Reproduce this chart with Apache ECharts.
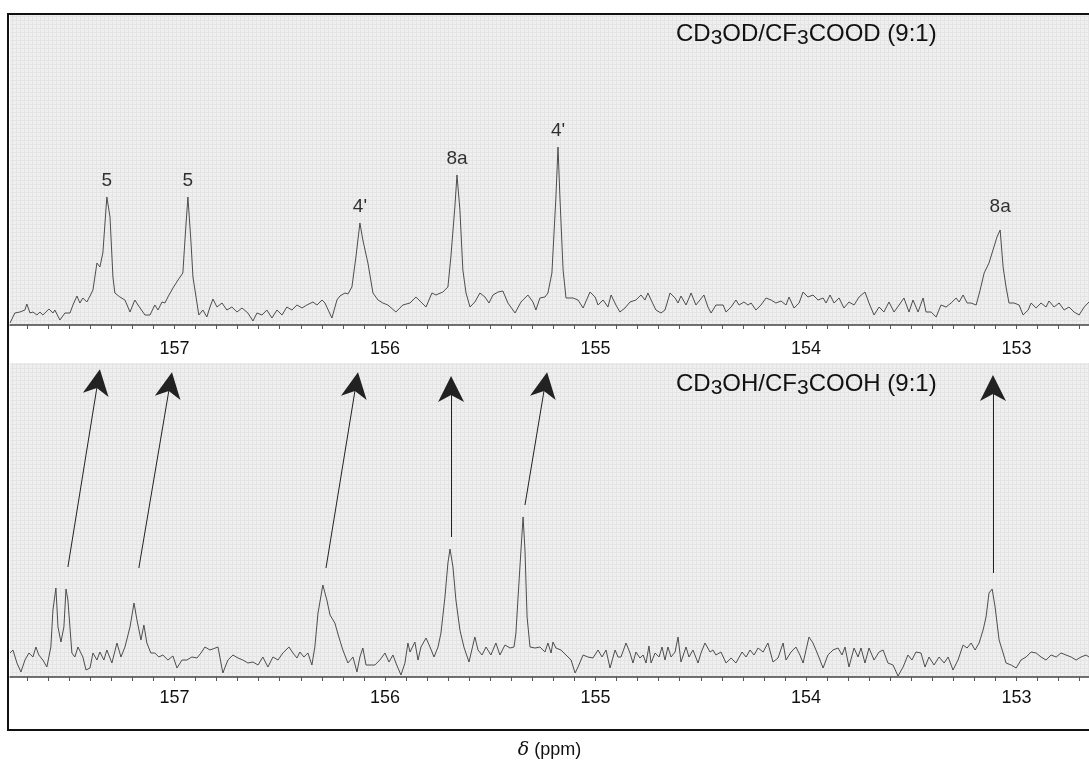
<!DOCTYPE html>
<html>
<head>
<meta charset="utf-8">
<title>13C NMR, CD3OD vs CD3OH</title>
<script src="https://cdn.jsdelivr.net/npm/echarts@6/dist/echarts.min.js"></script>
<style>
html, body { margin: 0; padding: 0; background: #fff; }
#chart { width: 1089px; height: 768px; }
</style>
</head>
<body>
<div id="chart"></div>
<script>
// chemical shift (ppm) and intensity (arbitrary units), upper trace: CD3OD/CF3COOD
const topShift = [157.781,157.758,157.734,157.710,157.701,157.686,157.672,157.653,157.639,157.625,
    157.596,157.577,157.568,157.544,157.520,157.496,157.482,157.463,157.449,157.435,
    157.416,157.401,157.387,157.368,157.354,157.340,157.321,157.306,157.292,157.283,
    157.259,157.235,157.211,157.188,157.173,157.140,157.116,157.093,157.078,157.059,
    157.045,157.031,157.007,156.983,156.960,156.950,156.936,156.922,156.912,156.893,
    156.884,156.865,156.846,156.831,156.817,156.798,156.774,156.751,156.727,156.703,
    156.679,156.651,156.627,156.608,156.584,156.561,156.537,156.513,156.489,156.466,
    156.442,156.418,156.394,156.371,156.342,156.323,156.299,156.285,156.252,156.228,
    156.214,156.190,156.176,156.157,156.138,156.119,156.105,156.081,156.057,156.033,
    156.010,155.986,155.948,155.915,155.881,155.853,155.829,155.805,155.777,155.758,
    155.725,155.701,155.687,155.668,155.658,155.644,155.630,155.615,155.596,155.573,
    155.549,155.525,155.506,155.487,155.463,155.440,155.416,155.382,155.354,155.321,
    155.297,155.283,155.264,155.240,155.226,155.207,155.188,155.178,155.169,155.154,
    155.140,155.107,155.083,155.059,155.026,155.002,154.988,154.964,154.941,154.926,
    154.903,154.884,154.860,154.836,154.808,154.784,154.765,154.751,154.736,154.713,
    154.689,154.670,154.646,154.622,154.608,154.594,154.570,154.546,154.523,154.504,
    154.485,154.466,154.451,154.428,154.394,154.380,154.356,154.333,154.318,154.295,
    154.276,154.261,154.238,154.214,154.190,154.166,154.143,154.119,154.095,154.081,
    154.057,154.033,154.014,153.991,153.967,153.943,153.919,153.905,153.886,153.867,
    153.843,153.820,153.796,153.772,153.748,153.720,153.701,153.677,153.653,153.630,
    153.606,153.582,153.558,153.535,153.511,153.492,153.468,153.444,153.430,153.406,
    153.382,153.359,153.335,153.311,153.287,153.273,153.254,153.235,153.216,153.192,
    153.173,153.154,153.131,153.112,153.093,153.078,153.064,153.050,153.036,153.012,
    152.988,152.969,152.945,152.931,152.907,152.884,152.860,152.846,152.822,152.798,
    152.774,152.751,152.727,152.703,152.679,152.656]
const topIntensity = [2,12,13,15,21,12,13,10,13,10,
    16,12,15,5,12,12,20,29,22,27,
    23,29,35,62,58,72,128,108,48,32,
    28,25,13,25,20,10,10,20,15,23,
    22,28,37,45,52,85,128,85,48,22,
    10,15,8,18,26,18,22,15,18,13,
    17,12,4,12,10,15,7,15,10,18,
    15,20,17,20,23,20,25,22,7,25,
    29,32,31,38,68,102,85,62,32,25,
    22,20,13,20,22,28,23,18,32,30,
    33,38,68,118,150,115,55,32,18,23,
    32,28,22,30,33,34,22,12,23,30,
    23,15,27,28,32,52,128,178,128,55,
    27,27,25,17,33,28,20,25,18,30,
    20,13,17,23,25,30,25,32,25,15,
    12,15,32,27,22,29,20,32,20,25,
    30,18,12,20,20,13,18,25,20,23,
    20,22,15,20,27,25,22,24,20,28,
    17,22,33,28,30,25,27,22,30,22,
    27,17,23,20,28,33,22,10,18,13,
    23,13,20,27,13,25,13,27,13,13,
    8,20,18,22,27,23,30,22,22,20,
    35,52,62,75,88,95,58,38,22,22,
    20,10,15,22,17,22,18,24,18,22,
    15,18,13,10,18,23]

// lower trace: CD3OH/CF3COOH
const bottomShift = [157.781,157.767,157.748,157.729,157.710,157.691,157.672,157.658,157.644,157.625,
    157.606,157.587,157.577,157.563,157.553,157.539,157.525,157.515,157.506,157.487,
    157.473,157.458,157.435,157.420,157.401,157.387,157.368,157.354,157.335,157.321,
    157.297,157.273,157.254,157.235,157.211,157.192,157.178,157.159,157.145,157.131,
    157.112,157.093,157.074,157.055,157.031,157.007,156.988,156.964,156.941,156.917,
    156.893,156.874,156.855,156.831,156.793,156.770,156.746,156.722,156.698,156.675,
    156.651,156.627,156.603,156.580,156.556,156.532,156.508,156.485,156.456,156.437,
    156.418,156.404,156.385,156.366,156.347,156.333,156.318,156.295,156.276,156.261,
    156.238,156.219,156.200,156.176,156.152,156.133,156.119,156.105,156.090,156.048,
    156.024,156.000,155.981,155.962,155.948,155.924,155.905,155.891,155.881,155.858,
    155.843,155.829,155.805,155.786,155.767,155.748,155.734,155.715,155.701,155.691,
    155.677,155.663,155.644,155.625,155.601,155.573,155.558,155.539,155.520,155.497,
    155.473,155.454,155.430,155.406,155.387,155.378,155.359,155.344,155.335,155.325,
    155.311,155.287,155.264,155.240,155.226,155.211,155.202,155.188,155.164,155.140,
    155.116,155.097,155.083,155.059,155.036,155.012,154.988,154.969,154.950,154.931,
    154.907,154.893,154.879,154.855,154.836,154.822,154.808,154.789,154.774,154.760,
    154.746,154.736,154.717,154.698,154.684,154.670,154.656,154.641,154.622,154.608,
    154.594,154.570,154.556,154.537,154.513,154.499,154.480,154.456,154.442,154.428,
    154.404,154.380,154.356,154.333,154.304,154.285,154.266,154.247,154.228,154.204,
    154.181,154.157,154.133,154.109,154.095,154.071,154.048,154.029,154.014,153.986,
    153.967,153.943,153.919,153.896,153.872,153.848,153.829,153.815,153.796,153.772,
    153.753,153.739,153.720,153.701,153.677,153.653,153.634,153.611,153.587,153.563,
    153.539,153.516,153.497,153.478,153.454,153.435,153.416,153.392,153.368,153.344,
    153.325,153.302,153.278,153.254,153.235,153.216,153.197,153.178,153.159,153.145,
    153.131,153.116,153.102,153.083,153.064,153.050,153.026,153.002,152.979,152.955,
    152.931,152.907,152.884,152.860,152.836,152.812,152.789,152.765,152.741,152.717,
    152.694,152.670,152.656]
const bottomIntensity = [24,27,14,5,17,24,20,30,22,17,
    10,30,67,89,50,35,50,88,77,24,
    20,30,20,7,9,24,17,25,17,27,
    14,34,20,30,50,74,57,37,52,34,
    24,24,20,22,17,21,9,17,17,20,
    19,24,30,27,30,4,17,22,19,17,
    14,15,12,20,10,20,17,24,30,24,
    19,25,20,24,12,30,64,92,77,62,
    54,40,27,14,20,5,20,29,12,12,
    17,24,15,22,14,2,14,34,25,35,
    17,30,39,30,20,30,44,80,114,128,
    110,77,47,30,15,40,27,22,30,22,
    34,22,32,29,30,44,110,160,127,60,
    30,29,30,25,34,24,35,29,27,22,
    17,4,10,22,20,19,27,20,27,9,
    27,20,20,34,24,14,25,19,22,14,
    31,14,24,20,30,17,30,20,25,40,
    15,30,20,27,14,24,34,25,27,22,
    25,14,19,14,25,20,27,22,29,25,
    34,15,19,34,17,25,30,22,14,40,
    34,22,9,22,27,29,22,30,10,29,
    20,29,14,29,17,25,27,14,12,1,
    10,22,17,25,24,10,20,12,20,14,
    20,7,17,32,29,34,27,34,47,60,
    84,88,70,37,24,14,12,9,17,20,
    25,24,20,17,22,20,24,22,20,17,
    20,22,20]

const tickLabels = [157, 156, 155, 154, 153]

// assignments on the upper trace
const peakShift = [157.321, 156.936, 156.119, 155.658, 155.178, 153.078]
const peakHeight = [128, 128, 102, 150, 178, 95]
const peakLabel = ['5', '5', "4'", '8a', "4'", '8a']

// arrows drawn in the lower panel: [shift, intensity] start and end (centre of the head)
const arrowStart = [[157.506, 110], [157.169, 109], [156.280, 109], [155.686, 140], [155.335, 172], [153.112, 104]]
const arrowEnd = [[157.364, 295], [157.022, 292], [156.138, 292], [155.686, 288], [155.240, 292], [153.112, 289]]

const font = 'Liberation Sans, Arial, sans-serif'

const minorTicks = []
for (let v = 1527; v <= 1577; v++) {
    minorTicks.push(v / 10)
}

function zip(xs, ys) {
    const out = []
    for (let i = 0, len = Math.min(xs.length, ys.length); i < len; i++) {
        out.push([xs[i], ys[i]])
    }
    return out
}

// faint graph-paper texture
const paper = document.createElement('canvas')
paper.width = 4
paper.height = 4
const pctx = paper.getContext('2d')
pctx.fillStyle = '#efefef'
pctx.fillRect(0, 0, 4, 4)
pctx.fillStyle = '#e4e4e4'
pctx.fillRect(0, 0, 4, 1)
pctx.fillRect(0, 0, 1, 4)

function xAxis(gridIndex, margin) {
    return {
        type: 'value',
        gridIndex: gridIndex,
        inverse: true,
        min: 152.656,
        max: 157.781,
        splitLine: {show: false},
        axisLine: {show: true, lineStyle: {color: '#444', width: 1.5}},
        axisTick: {show: true, customValues: minorTicks, length: 4, lineStyle: {color: '#555'}},
        axisLabel: {customValues: tickLabels, margin: margin, fontSize: 18, color: '#111', fontFamily: font}
    }
}

const subText = {
    n: {fontSize: 24, color: '#111', fontWeight: 'normal', fontFamily: font},
    s: {fontSize: 21, color: '#111', fontWeight: 'normal', fontFamily: font, verticalAlign: 'bottom', padding: [0, 0, -3, 0]}
}

const peakData = peakLabel.map((name, i) => ({
    name: name,
    value: [peakShift[i], peakHeight[i]],
    label: i === 5 ? {distance: 14} : undefined
}))

const arrowData = arrowStart.map((s, i) => ({coords: [s, arrowEnd[i]]}))

// narrow filled arrow head, tip at the top
const arrowHead = 'path://M9.5,0L19,26L9.5,19L0,26Z'

const chart = echarts.init(document.getElementById('chart'))
chart.setOption({
    animation: false,
    backgroundColor: '#fff',
    title: [{
        text: '{n|CD}{s|3}{n|OD/CF}{s|3}{n|COOD (9:1)}',
        left: 671,
        top: 17,
        textStyle: {fontWeight: 'normal', rich: subText}
    }, {
        text: '{n|CD}{s|3}{n|OH/CF}{s|3}{n|COOH (9:1)}',
        left: 671,
        top: 367,
        textStyle: {fontWeight: 'normal', rich: subText}
    }],
    graphic: [{
        type: 'rect',
        silent: true,
        z: 100,
        shape: {x: 8, y: 14, width: 1100, height: 716},
        style: {fill: 'none', stroke: '#111', lineWidth: 2}
    }],
    grid: [
        {left: 10, top: 15, width: 1079, height: 310, show: true, borderWidth: 0,
            backgroundColor: {image: paper, repeat: 'repeat'}},
        {left: 10, top: 363, width: 1079, height: 314, show: true, borderWidth: 0,
            backgroundColor: {image: paper, repeat: 'repeat'}}
    ],
    xAxis: [
        xAxis(0, 15),
        Object.assign(xAxis(1, 12), {
            name: '{d|δ} (ppm)',
            nameLocation: 'middle',
            nameGap: 64,
            nameTextStyle: {
                fontSize: 18, color: '#111', fontFamily: font,
                rich: {d: {fontSize: 19, fontStyle: 'italic', fontFamily: 'DejaVu Serif', color: '#111'}}
            }
        })
    ],
    yAxis: [
        {type: 'value', gridIndex: 0, min: 0, max: 310, show: false},
        {type: 'value', gridIndex: 1, min: 0, max: 314, show: false}
    ],
    series: [{
        name: 'CD3OD/CF3COOD',
        type: 'line',
        xAxisIndex: 0,
        yAxisIndex: 0,
        data: zip(topShift, topIntensity),
        showSymbol: false,
        lineStyle: {color: '#4d4d4d', width: 1}
    }, {
        name: 'CD3OH/CF3COOH',
        type: 'line',
        xAxisIndex: 1,
        yAxisIndex: 1,
        data: zip(bottomShift, bottomIntensity),
        showSymbol: false,
        lineStyle: {color: '#4d4d4d', width: 1}
    }, {
        type: 'scatter',
        xAxisIndex: 0,
        yAxisIndex: 0,
        symbolSize: 0,
        itemStyle: {color: '#111'},
        data: peakData,
        label: {show: true, position: 'top', distance: 7, formatter: '{b}',
            fontSize: 19, color: '#000', fontFamily: font}
    }, {
        type: 'lines',
        coordinateSystem: 'cartesian2d',
        xAxisIndex: 1,
        yAxisIndex: 1,
        symbol: ['none', arrowHead],
        symbolSize: 26,
        symbolKeepAspect: true,
        lineStyle: {color: '#222', width: 1, opacity: 1},
        data: arrowData
    }]
})
</script>
</body>
</html>
